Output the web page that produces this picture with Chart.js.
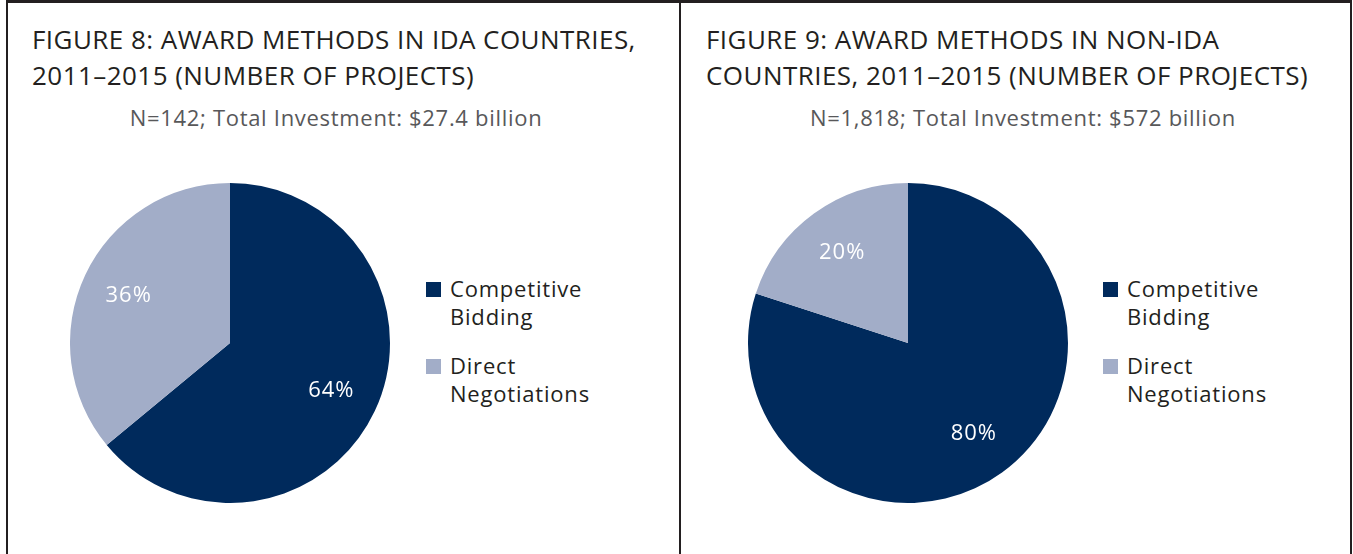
<!DOCTYPE html>
<html>
<head>
<meta charset="utf-8">
<script src="https://cdn.jsdelivr.net/npm/chart.js@4.4.1/dist/chart.umd.min.js"></script>
<style>
  body { margin: 0; background: #fff; }
  #wrap { position: relative; width: 1353px; height: 554px; overflow: hidden; font-family: "Open Sans", "Noto Sans", sans-serif; color: #231f20; }
  .panel { position: absolute; top: 0; height: 600px; box-sizing: border-box; border-top: 3px solid #231f20; border-left: 2px solid #231f20; }
  .title { position: absolute; font-size: 26px; line-height: 36px; letter-spacing: 0.45px; white-space: nowrap; }
  .sub { position: absolute; font-size: 22px; letter-spacing: 0.7px; color: #58585a; white-space: nowrap; text-align: center; width: 600px; }
  .pie { position: absolute; }
  .legend { position: absolute; font-size: 22px; line-height: 28px; letter-spacing: 0.8px; }
  .legend .item { position: relative; padding-left: 24px; margin-bottom: 21px; width: 180px; }
  .legend .box { position: absolute; left: 0; top: 8px; width: 15px; height: 15px; }
</style>
</head>
<body>
<div id="wrap">
  <div class="panel" style="left:6px;width:674px;"></div>
  <div class="panel" style="left:679px;width:673px;border-right:2px solid #231f20;"></div>

  <div class="title" id="t1" style="left:32px;top:21px;"></div>
  <div class="title" id="t2" style="left:706px;top:21px;"></div>
  <div class="sub" id="s1" style="left:36px;top:102px;"></div>
  <div class="sub" id="s2" style="left:723px;top:102px;"></div>

  <canvas class="pie" id="pie1" width="320" height="320" style="left:70px;top:183px;"></canvas>
  <canvas class="pie" id="pie2" width="320" height="320" style="left:748px;top:183px;"></canvas>

  <div class="legend" id="lg1" style="left:426px;top:274px;"></div>
  <div class="legend" id="lg2" style="left:1103px;top:274px;"></div>
</div>
<script>
// data
const categories = ['Competitive Bidding', 'Direct Negotiations'];
const idaShares = [64, 36];
const nonIdaShares = [80, 20];
const sliceColors = ['#002a5c', '#a2adc8'];

const titles = [
  ['FIGURE 8: AWARD METHODS IN IDA COUNTRIES,', '2011\u20132015 (NUMBER OF PROJECTS)'],
  ['FIGURE 9: AWARD METHODS IN NON-IDA', 'COUNTRIES, 2011\u20132015 (NUMBER OF PROJECTS)']
];
const subtitles = [
  'N=142; Total Investment: $27.4 billion',
  'N=1,818; Total Investment: $572 billion'
];

// percent labels inside the slices
const pctLabels = {
  id: 'pctLabels',
  afterDatasetsDraw(chart) {
    const c = chart.ctx;
    const meta = chart.getDatasetMeta(0);
    const vals = chart.data.datasets[0].data;
    c.save();
    c.fillStyle = '#ffffff';
    c.font = '22px "Open Sans", sans-serif';
    c.letterSpacing = '1px';
    c.textAlign = 'center';
    c.textBaseline = 'middle';
    meta.data.forEach((arc, i) => {
      const p = arc.getProps(['x', 'y', 'startAngle', 'endAngle', 'outerRadius']);
      const mid = (p.startAngle + p.endAngle) / 2;
      const r = p.outerRadius * 0.7;
      c.fillText(vals[i] + '%', p.x + Math.cos(mid) * r, p.y + Math.sin(mid) * r);
    });
    c.restore();
  }
};

function makePie(id, values) {
  return new Chart(document.getElementById(id), {
    type: 'pie',
    data: {
      labels: categories,
      datasets: [{
        data: values,
        backgroundColor: sliceColors,
        borderWidth: 0
      }]
    },
    options: {
      responsive: false,
      animation: false,
      plugins: {
        legend: { display: false },
        tooltip: { enabled: false }
      }
    },
    plugins: [pctLabels]
  });
}

function makeLegend(id, chart) {
  const el = document.getElementById(id);
  chart.data.labels.forEach((lab, i) => {
    const item = document.createElement('div');
    item.className = 'item';
    const box = document.createElement('span');
    box.className = 'box';
    box.style.background = chart.data.datasets[0].backgroundColor[i];
    item.appendChild(box);
    item.appendChild(document.createTextNode(lab));
    el.appendChild(item);
  });
}

document.getElementById('t1').innerHTML = titles[0].join('<br>');
document.getElementById('t2').innerHTML = titles[1].join('<br>');
document.getElementById('s1').textContent = subtitles[0];
document.getElementById('s2').textContent = subtitles[1];

const c1 = makePie('pie1', idaShares);
const c2 = makePie('pie2', nonIdaShares);
makeLegend('lg1', c1);
makeLegend('lg2', c2);
</script>
</body>
</html>
